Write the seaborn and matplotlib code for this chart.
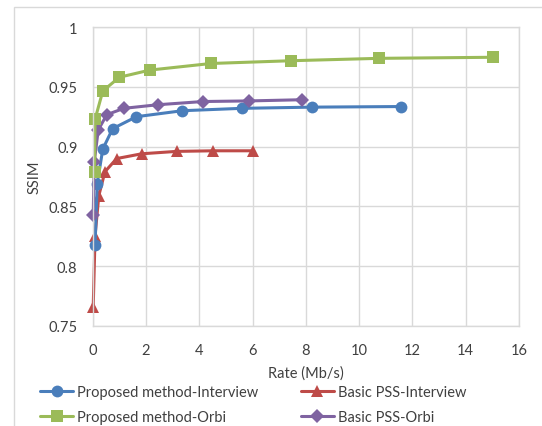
import matplotlib
matplotlib.use("Agg")
import matplotlib.pyplot as plt
from matplotlib.patches import Rectangle
from matplotlib.ticker import FuncFormatter, MultipleLocator
import seaborn as sns
import pandas as pd

# Rate (Mb/s) and SSIM for each coding scheme
prop_interview_rate = [0.09, 0.17, 0.38, 0.75, 1.64, 3.36, 5.59, 8.22, 11.58]
prop_interview_ssim = [0.818, 0.869, 0.898, 0.915, 0.925, 0.930, 0.932, 0.933, 0.9335]

basic_interview_rate = [0.02, 0.09, 0.23, 0.46, 0.90, 1.84, 3.15, 4.53, 6.03]
basic_interview_ssim = [0.766, 0.8255, 0.859, 0.879, 0.890, 0.894, 0.896, 0.8965, 0.8965]

prop_orbi_rate = [0.07, 0.09, 0.38, 1.00, 2.15, 4.44, 7.43, 10.74, 15.03]
prop_orbi_ssim = [0.879, 0.923, 0.9465, 0.958, 0.964, 0.9695, 0.9718, 0.9738, 0.9747]

basic_orbi_rate = [0.02, 0.06, 0.21, 0.53, 1.17, 2.44, 4.14, 5.87, 7.86]
basic_orbi_ssim = [0.843, 0.8875, 0.914, 0.9267, 0.932, 0.935, 0.9377, 0.9382, 0.9392]

series_names = ["Proposed method-Interview", "Proposed method-Orbi",
                "Basic PSS-Interview", "Basic PSS-Orbi"]

sns.set_style("white")
plt.rcParams["font.family"] = ["Lato", "DejaVu Sans"]

fig = plt.figure(figsize=(5.42, 4.27), dpi=100)
ax = fig.add_axes([0.171, 0.2342, 0.7866, 0.7002])

grid_col = "#D9D9D9"
text_col = "#404040"
series = [
    (series_names[0], prop_interview_rate, prop_interview_ssim, "#4A7EBB", "o", 8.5),
    (series_names[1], prop_orbi_rate, prop_orbi_ssim, "#9BBB59", "s", 8.0),
    (series_names[2], basic_interview_rate, basic_interview_ssim, "#BE4B48", "^", 9.0),
    (series_names[3], basic_orbi_rate, basic_orbi_ssim, "#7F63A1", "D", 7.0),
]

# draw the lower series first so the upper curves sit on top
draw_order = [2, 0, 3, 1]
for i in draw_order:
    name, xs, ys, col, mk, ms = series[i]
    df = pd.DataFrame({"rate": xs, "ssim": ys})
    sns.lineplot(data=df, x="rate", y="ssim", ax=ax, color=col, marker=mk,
                 markersize=ms, markeredgewidth=0, linewidth=2.2, sort=False,
                 label=name, clip_on=False)

ax.set_xlim(0, 16)
ax.set_ylim(0.75, 1.0)
ax.xaxis.set_major_locator(MultipleLocator(2))
ax.yaxis.set_major_locator(MultipleLocator(0.05))
ax.yaxis.set_major_formatter(FuncFormatter(lambda v, p: f"{v:g}"))
ax.grid(True, color=grid_col, linewidth=1.0)
ax.set_axisbelow(True)
for s in ax.spines.values():
    s.set_color(grid_col)
    s.set_linewidth(1.0)
ax.tick_params(axis="both", length=0, labelsize=10.5, colors=text_col)
ax.tick_params(axis="y", pad=11)
ax.tick_params(axis="x", pad=12)
ax.set_xlabel("Rate (Mb/s)", fontsize=10.5, color=text_col, labelpad=6)
ax.set_ylabel("SSIM", fontsize=10.5, color=text_col, labelpad=5)

h, l = ax.get_legend_handles_labels()
lookup = dict(zip(l, h))
ax.get_legend().remove()
fig.legend([lookup[n] for n in series_names], series_names, ncol=2,
           loc="center left", bbox_to_anchor=(0.06, 0.05), frameon=False,
           fontsize=10.5, handlelength=2.3, columnspacing=2.9,
           labelspacing=0.75, handletextpad=0.25, labelcolor=text_col,
           borderpad=0.0)

# chart-area frame
fig.patches.append(Rectangle((14 / 542, -0.2), 1.2, 1 - 8 / 427 + 0.2,
                             transform=fig.transFigure, fill=False,
                             edgecolor=grid_col, linewidth=1.0))

fig.savefig("out.png", dpi=100)
